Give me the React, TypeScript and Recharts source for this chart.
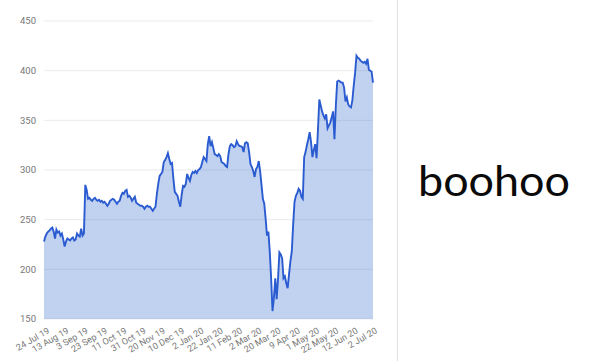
import React from "react";
import { AreaChart, Area, XAxis, YAxis, CartesianGrid } from "recharts";

// Share price (pence), one value per UK trading day from 24 Jul 19 to early Jul 20
const prices: number[] = [
  228, 233, 236, 238, 239, 241, 242, 238, 231, 240,
  237, 238, 234, 236, 230, 223, 228, 231, 230, 229,
  231, 232, 229, 230, 236, 234, 233, 241, 234, 236,
  285, 280, 271, 272, 270, 269, 271, 272, 270, 269,
  270, 268, 269, 267, 268, 266, 264, 266, 269, 270,
  271, 270, 268, 266, 268, 269, 274, 277, 276, 279,
  280, 273, 274, 272, 269, 271, 273, 267, 266, 265,
  264, 264, 263, 261, 263, 264, 263, 263, 261, 259,
  261, 263, 276, 286, 294, 296, 298, 308, 310, 313,
  317, 311, 306, 307, 291, 278, 276, 274, 268, 263,
  275, 284, 283, 286, 296, 292, 289, 295, 298, 297,
  299, 297, 300, 301, 303, 308, 313, 311, 309, 326,
  334, 324, 328, 322, 316, 315, 314, 316, 314, 308,
  307, 306, 304, 303, 316, 324, 326, 325, 323, 324,
  329, 326, 324, 324, 323, 318, 327, 328, 327, 318,
  306, 303, 299, 293, 301, 303, 309, 299, 285, 271,
  266, 251, 234, 238, 218, 191, 158, 171, 191, 170,
  190, 217, 215, 211, 191, 193, 186, 181, 195, 208,
  218, 245, 268, 274, 277, 281, 279, 273, 271, 313,
  318, 325, 331, 338, 328, 313, 320, 326, 312, 340,
  371, 365, 359, 355, 352, 356, 342, 345, 348, 353,
  359, 331, 365, 389, 390, 389, 388, 388, 383, 369,
  373, 366, 364, 363, 370, 385, 398, 415, 413, 412,
  410, 409, 408, 409, 407, 412, 401, 400, 399, 388,
];

const tickLabels: string[] = [
  "24 Jul 19", "13 Aug 19", "3 Sep 19", "23 Sep 19", "11 Oct 19", "31 Oct 19",
  "20 Nov 19", "10 Dec 19", "2 Jan 20", "22 Jan 20", "11 Feb 20", "2 Mar 20",
  "20 Mar 20", "9 Apr 20", "1 May 20", "22 May 20", "12 Jun 20", "2 Jul 20",
];
const tickStep = 14;

const yTicks: number[] = [150, 200, 250, 300, 350, 400, 450];

const data = prices.map((p, i) => ({ i, price: p }));
const xTicks = tickLabels.map((_, k) => k * tickStep);

const axisFont = "Roboto, Arial, sans-serif";

export default function App() {
  return (
    <div style={{ position: "fixed", left: 0, top: 0, width: 600, height: 361, background: "#fff" }}>
      <AreaChart
        width={600}
        height={361}
        data={data}
        margin={{ top: 21, right: 227, bottom: 2, left: 0 }}
      >
        <CartesianGrid vertical={false} stroke="#ebebeb" />
        <XAxis
          dataKey="i"
          type="number"
          domain={[0, prices.length - 1]}
          ticks={xTicks}
          tickFormatter={(v: number) => tickLabels[Math.round(v / tickStep)]}
          interval={0}
          axisLine={false}
          tickLine={false}
          height={40}
          angle={-30}
          textAnchor="end"
          dx={3}
          tick={{ fill: "#777777", fontSize: 9, fontFamily: axisFont }}
        />
        <YAxis
          domain={[150, 450]}
          ticks={yTicks}
          axisLine={false}
          tickLine={false}
          width={44}
          tick={{ fill: "#777777", fontSize: 9.5, fontFamily: axisFont }}
        />
        <Area
          type="linear"
          dataKey="price"
          stroke="#2a5bd0"
          strokeWidth={1.9}
          fill="#3366cc"
          fillOpacity={0.3}
          baseValue={150}
          isAnimationActive={false}
          dot={false}
          activeDot={false}
        />
      </AreaChart>
      <div
        style={{
          position: "absolute",
          left: 397,
          top: 0,
          width: 1,
          height: 361,
          background: "#e0e0e0",
        }}
      />
      <svg
        width={200}
        height={80}
        style={{ position: "absolute", left: 398, top: 145 }}
      >
        <text
          x={20}
          y={51}
          textLength={152}
          lengthAdjust="spacingAndGlyphs"
          fontFamily="Lato, Roboto, sans-serif"
          fontWeight={400}
          fontSize={43}
          fill="#0a0a0a"
        >
          boohoo
        </text>
      </svg>
    </div>
  );
}
